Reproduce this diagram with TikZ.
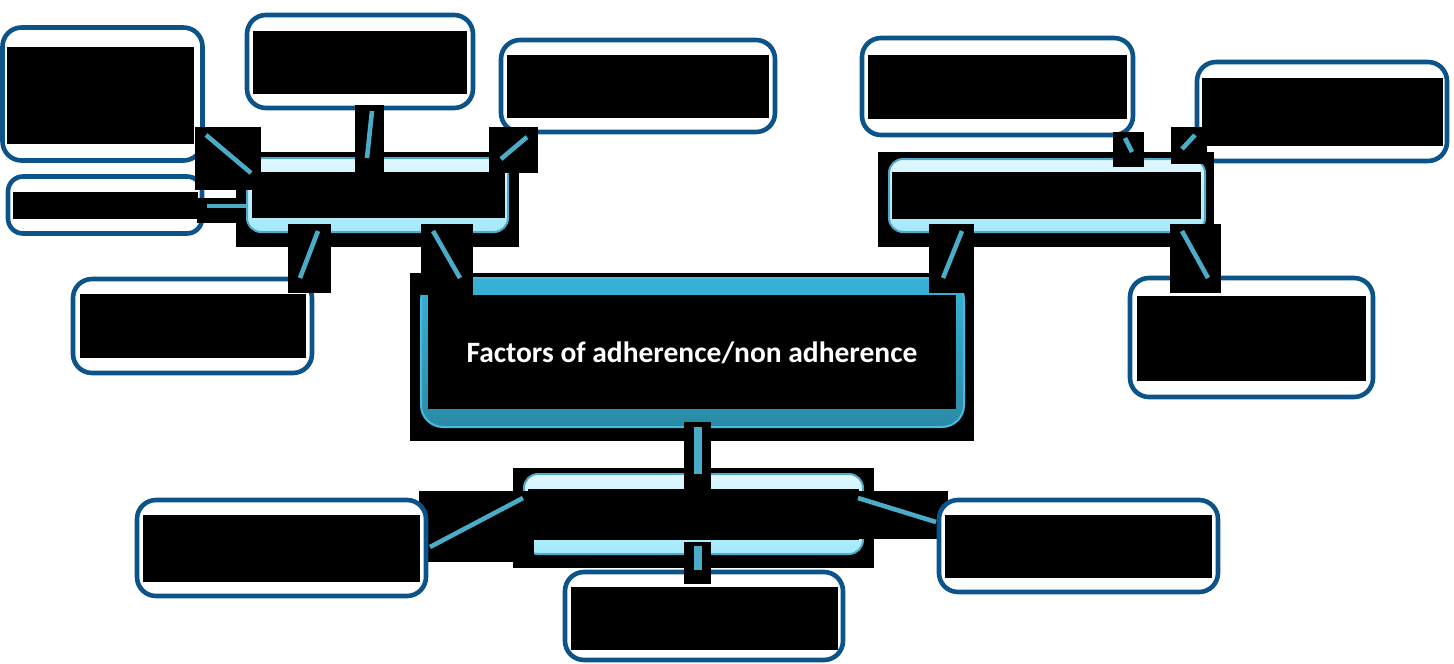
\documentclass[tikz,border=0pt]{standalone}
\usepackage{fontspec}
\setmainfont{Carlito}
\definecolor{boxblue}{HTML}{0C538A}
\definecolor{linkc}{HTML}{4AACC6}
\definecolor{hubedge}{HTML}{50AAC8}
\definecolor{hubtop}{HTML}{E0F8FE}
\definecolor{hubbot}{HTML}{A2E9FB}
\definecolor{ctrtop}{HTML}{37B3D7}
\definecolor{ctrbot}{HTML}{2A8AA5}
\definecolor{ctredge}{HTML}{45BCE0}
\tikzset{
  outbox/.style={draw=boxblue, line width=4.6pt, rounded corners=19pt, fill=white, inner sep=0pt, shape=rectangle},
  hubbox/.style={draw=hubedge, line width=2pt, rounded corners=14pt, top color=hubtop, bottom color=hubbot, inner sep=0pt, shape=rectangle},
  ctrbox/.style={draw=ctredge, line width=2pt, rounded corners=22pt, top color=ctrtop, bottom color=ctrbot, inner sep=0pt, shape=rectangle},
  redact/.style={fill=black},
  link/.style={draw=linkc, line width=4.6pt},
  vlink/.style={draw=linkc, line width=7.5pt},
}
\begin{document}
\begin{tikzpicture}[x=1pt,y=-1pt]
\useasboundingbox (0,0) rectangle (1454,664);
% outer boxes
\node[outbox, minimum width=200pt, minimum height=133pt] (A) at (102.5,94) {};
\fill[redact] (7,47) rectangle (194,144);
\node[outbox, minimum width=226pt, minimum height=93pt] (B) at (360,61.5) {};
\fill[redact] (253,31) rectangle (467,94);
\node[outbox, minimum width=274pt, minimum height=92pt] (C) at (638,86) {};
\fill[redact] (507,55) rectangle (769,118);
\node[outbox, minimum width=194pt, minimum height=57pt, rounded corners=15pt] (D) at (105,205) {};
\fill[redact] (13,192) rectangle (198,219);
\node[outbox, minimum width=239pt, minimum height=94pt] (E) at (192.5,326) {};
\fill[redact] (80,294) rectangle (306,358);
\node[outbox, minimum width=278pt, minimum height=88pt] (H) at (704,616) {};
\fill[redact] (571,587) rectangle (838,650);
\node[outbox, minimum width=271pt, minimum height=97pt] (I) at (997.5,86.5) {};
\fill[redact] (868,55) rectangle (1127,119);
\node[outbox, minimum width=250pt, minimum height=99pt] (J) at (1322,111.5) {};
\fill[redact] (1202,78) rectangle (1443,146);
\node[outbox, minimum width=243pt, minimum height=119pt] (K) at (1251.5,337.5) {};
\fill[redact] (1137,296) rectangle (1366,381);
% hub backgrounds
\fill[redact] (236,152) rectangle (519,247);
\fill[redact] (878,152) rectangle (1214,247);
\fill[redact] (513,468) rectangle (874,568);
\fill[redact] (410,273) rectangle (974,441);
% hubs
\node[hubbox, minimum width=261pt, minimum height=74pt] (LH) at (377.5,195) {};
\fill[redact] (252,172) rectangle (505,218);
\node[hubbox, minimum width=316pt, minimum height=73pt] (RH) at (1047,195.5) {};
\fill[redact] (892,172) rectangle (1201,219);
\node[hubbox, minimum width=339pt, minimum height=80pt] (BH) at (693.5,514) {};
\fill[redact] (528,489) rectangle (859,540);
\node[ctrbox, minimum width=543pt, minimum height=149pt] (M) at (692.5,352.5) {};
\fill[redact] (428,295) rectangle (956,409);
\node[text=white, font=\bfseries\fontsize{29.5}{34}\selectfont, anchor=base, inner sep=0pt] (T) at (692,362) {Factors of adherence/non adherence};
% connector patches
\fill[redact] (195,127) rectangle (261,190);
\fill[redact] (197,198) rectangle (240,223);
\fill[redact] (355,105) rectangle (384,172);
\fill[redact] (489,127) rectangle (538,173);
\fill[redact] (288,224) rectangle (331,293);
\fill[redact] (421,224) rectangle (473,295);
\fill[redact] (1113,132) rectangle (1144,167);
\fill[redact] (1171,127) rectangle (1207,164);
\fill[redact] (929,224) rectangle (974,293);
\fill[redact] (1170,224) rectangle (1221,293);
\fill[redact] (684,422) rectangle (711,489);
\fill[redact] (684,542) rectangle (711,584);
\fill[redact] (419,491) rectangle (534,562);
\fill[redact] (859,491) rectangle (948,539);
% boxes drawn above patches
\node[outbox, minimum width=289pt, minimum height=96pt] (F) at (281.5,548) {};
\fill[redact] (143,515) rectangle (420,582);
\node[outbox, minimum width=279pt, minimum height=92pt] (G) at (1078.5,546) {};
\fill[redact] (945,515) rectangle (1212,578);
% connector ends
\coordinate (a1) at (206,135); \coordinate (a2) at (251,173);
\coordinate (d1) at (207,206); \coordinate (d2) at (246,206);
\coordinate (b1) at (372,111); \coordinate (b2) at (367,158);
\coordinate (c1) at (527,137); \coordinate (c2) at (501,159);
\coordinate (e1) at (318,231); \coordinate (e2) at (300,278);
\coordinate (m1) at (433,231); \coordinate (m2) at (460,278);
\coordinate (i1) at (1125,138); \coordinate (i2) at (1132,152);
\coordinate (j1) at (1195,135); \coordinate (j2) at (1182,149);
\coordinate (n1) at (962,231); \coordinate (n2) at (943,278);
\coordinate (k1) at (1182,231); \coordinate (k2) at (1208,278);
\coordinate (v1) at (698,427); \coordinate (v2) at (698,474);
\coordinate (f1) at (523,498); \coordinate (f2) at (430,547);
\coordinate (g1) at (858,498); \coordinate (g2) at (936,522);
\coordinate (h1) at (698,546); \coordinate (h2) at (698,570);
% connectors
\draw[link] (a1) -- (a2);
\draw[link] (d1) -- (d2);
\draw[link] (b1) -- (b2);
\draw[link] (c1) -- (c2);
\draw[link] (e1) -- (e2);
\draw[link] (m1) -- (m2);
\draw[link] (i1) -- (i2);
\draw[link] (j1) -- (j2);
\draw[link] (n1) -- (n2);
\draw[link] (k1) -- (k2);
\draw[vlink] (v1) -- (v2);
\draw[link] (f1) -- (f2);
\draw[link] (g1) -- (g2);
\draw[vlink] (h1) -- (h2);
\end{tikzpicture}
\end{document}
